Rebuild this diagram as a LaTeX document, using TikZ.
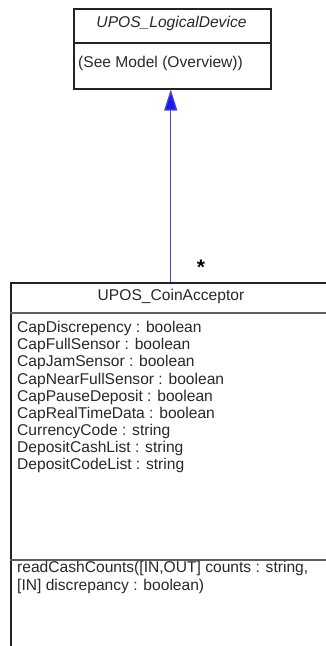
\documentclass[tikz,border=0pt]{standalone}
\usepackage{fontspec}
\newfontfamily\umlfont{Liberation Sans}
\usetikzlibrary{arrows.meta,positioning}
\definecolor{umlline}{RGB}{35,35,35}
\definecolor{umlgray}{RGB}{95,95,95}
\definecolor{umltext}{RGB}{40,40,40}
\definecolor{genblue}{RGB}{25,25,240}
\definecolor{genline}{RGB}{80,70,200}

\begin{document}
\begin{tikzpicture}[x=1pt, y=-1pt,
  classbox/.style={rectangle, draw=umlline, line width=1.5pt, anchor=north west, inner sep=0pt},
  divider/.style={umlline, line width=1.4pt},
  title/.style={font=\umlfont\fontsize{15.6}{17}\selectfont, text=umltext, inner sep=0pt, anchor=base},
  member/.style={font=\umlfont\fontsize{15.6}{17}\selectfont, text=umltext, inner sep=0pt, anchor=base west},
  gen/.style={-{Triangle[length=21pt, width=13pt, fill=genblue]}, draw=genline, line width=1.2pt},
]
\useasboundingbox (0,0) rectangle (326,646);
\clip (0,0) rectangle (326,646);

% === parent class ===
\node[classbox, minimum width=197pt, minimum height=80pt] (logdev) at (73,8) {};
\draw[divider] (73,43) -- (270,43);
\node[title] (logdev-name) at (171.5,27.5) {\itshape UPOS\_LogicalDevice};
\node[member] (logdev-note) at (78,67) {(See Model (Overview))};

% === coin acceptor class ===
\node[classbox, minimum width=325pt, minimum height=380pt] (coinacc) at (10,282) {};
\draw[divider, umlgray] (10,313) -- (335,313);
\draw[divider, umlgray] (10,560) -- (335,560);
\node[title] (coinacc-name) at (171,300.5) {UPOS\_CoinAcceptor};

\foreach \attr [count=\i] in {CapDiscrepency : boolean, CapFullSensor : boolean,
    CapJamSensor : boolean, CapNearFullSensor : boolean, CapPauseDeposit : boolean,
    CapRealTimeData : boolean, CurrencyCode : string, DepositCashList : string,
    DepositCodeList : string}
  \node[member] (attr\i) at (17,315.6+17.1*\i) {\attr};

\node[member] (op1) at (17,572.4) {readCashCounts([IN,OUT] counts : string,};
\node[member] (op1b) at (17,590) {[IN] discrepancy : boolean)};

% === generalization ===
\draw[gen] ([xshift=-2.5pt]coinacc.north) -- ([xshift=-1.5pt]logdev.south);
\node[font=\umlfont\bfseries\fontsize{21}{21}\selectfont, inner sep=0pt] (mult) at (201,267) {*};
\end{tikzpicture}
\end{document}
